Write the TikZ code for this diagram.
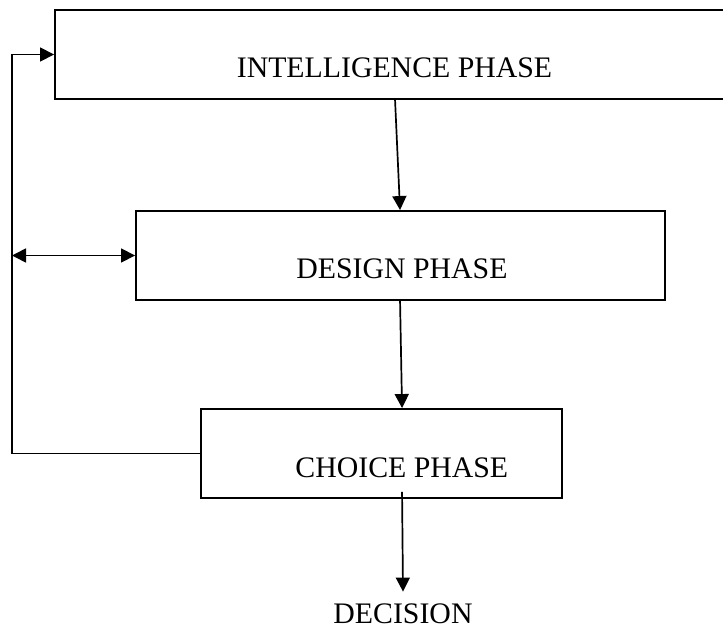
\documentclass[tikz,border=0pt]{standalone}
\usepackage{fontspec}
\setmainfont{Liberation Serif}
\usetikzlibrary{arrows.meta,calc}
\tikzset{
  phasebox/.style={draw, line width=1.9pt, inner sep=0pt, minimum height=89pt},
  phasetext/.style={inner sep=0pt, anchor=base, font=\fontsize{29.8pt}{32pt}\selectfont},
  flow/.style={line width=1.7pt, -{Triangle[length=14pt,width=14pt]}},
  flowboth/.style={line width=1.7pt, {Triangle[length=14pt,width=14pt]}-{Triangle[length=14pt,width=14pt]}}
}
\begin{document}
\begin{tikzpicture}[x=1pt,y=-1pt]
  \clip (0,0) rectangle (723,631);

  % phase boxes
  \node[phasebox, minimum width=679pt] (intel)  at (394.5,54.5) {};
  \node[phasebox, minimum width=529pt] (design) at (400.5,255.5) {};
  \node[phasebox, minimum width=361pt] (choice) at (381.5,453.5) {};

  % labels
  \node[phasetext] (inteltxt)  at (394.5,78)  {INTELLIGENCE PHASE};
  \node[phasetext] (designtxt) at (402,278)   {DESIGN PHASE};
  \node[phasetext] (choicetxt) at (401.8,477) {CHOICE PHASE};
  \node[phasetext] (decision)  at (403,623.5) {DECISION};

  % main flow
  \draw[flow] ($(intel.south west)+(341,0)$) -- ($(design.north west)+(265,0)$);
  \draw[flow] ($(design.south west)+(265,0)$) -- ($(choice.north west)+(202,0)$);
  \draw[flow] ($(choice.south west)+(202,-7)$) -- ($(decision.north)+(0,-12)$);

  % feedback rail on the left
  \coordinate (rail) at (12,255.5);
  \draw[flow] (choice.west) -| (rail) |- (intel.west);
  \draw[flowboth] (rail) -- (design.west);
\end{tikzpicture}
\end{document}
